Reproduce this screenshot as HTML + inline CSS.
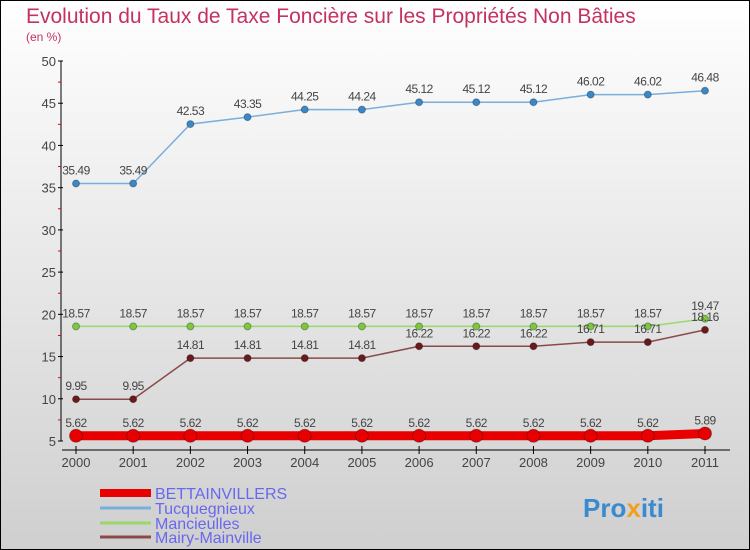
<!DOCTYPE html>
<html><head><meta charset="utf-8"><style>
html,body{margin:0;padding:0}
body{width:750px;height:550px;overflow:hidden;font-family:"Liberation Sans",sans-serif}
svg{display:block}
</style></head><body>
<svg id="c" width="750" height="550" xmlns="http://www.w3.org/2000/svg">
<defs><linearGradient id="bg" x1="0" y1="0" x2="0" y2="1"><stop offset="0" stop-color="#ffffff"/><stop offset="1" stop-color="#cfcfcf"/></linearGradient></defs>
<rect x="0.5" y="0.5" width="749" height="549" fill="url(#bg)" stroke="#000"/>
<text x="26" y="23" font-size="21" fill="#c4325e">Evolution du Taux de Taxe Foncière sur les Propriétés Non Bâties</text>
<text x="26" y="41" font-size="12" fill="#c4325e">(en %)</text>
<g id="axes"></g><g id="series"></g><g id="legend"></g>
<text x="583" y="517" font-size="26" font-weight="bold" fill="#3a8ad0">Pro<tspan fill="#f0a020">x</tspan>iti</text>
</svg>
<script>
const years=[2000,2001,2002,2003,2004,2005,2006,2007,2008,2009,2010,2011];
const bett=[5.62,5.62,5.62,5.62,5.62,5.62,5.62,5.62,5.62,5.62,5.62,5.89];
const tucq=[35.49,35.49,42.53,43.35,44.25,44.24,45.12,45.12,45.12,46.02,46.02,46.48];
const manc=[18.57,18.57,18.57,18.57,18.57,18.57,18.57,18.57,18.57,18.57,18.57,19.47];
const mairy=[9.95,9.95,14.81,14.81,14.81,14.81,16.22,16.22,16.22,16.71,16.71,18.16];
const yTicks=[5,10,15,20,25,30,35,40,45,50];
const NS="http://www.w3.org/2000/svg";
const X=i=>76+i*(705-76)/11;
const Y=v=>441-(v-5)*(380/45);
function mk(p,t,a){const e=document.createElementNS(NS,t);for(const k in a)e.setAttribute(k,a[k]);p.appendChild(e);return e;}
const ax=document.getElementById('axes');
let e=mk(ax,'line',{x1:61,y1:Y(50),x2:61,y2:Y(5),stroke:'#000'});


e=mk(ax,'line',{x1:62,y1:450,x2:730,y2:450,stroke:'#000'});


yTicks.forEach(v=>{
  mk(ax,'line',{x1:58,y1:Y(v),x2:63,y2:Y(v),stroke:'#000'});
  if(v<50)mk(ax,'line',{x1:58,y1:Y(v+2.5),x2:61,y2:Y(v+2.5),stroke:'#e00'});
  const t=mk(ax,'text',{x:56,y:Y(v)+5,'font-size':13,fill:'#444','text-anchor':'end'});t.textContent=v;
  
  
});
years.forEach((yr,i)=>{
  mk(ax,'line',{x1:X(i),y1:446,x2:X(i),y2:454,stroke:'#000'});
  const t=mk(ax,'text',{x:X(i),y:467,'font-size':13,fill:'#444','text-anchor':'middle'});t.textContent=yr;
  
  
});
const sg=document.getElementById('series');
function series(name,vals,col,dot,w,r){
  const g=mk(sg,'g',{});
  
  
  mk(g,'polyline',{points:vals.map((v,i)=>X(i)+','+Y(v)).join(' '),fill:'none',stroke:col,'stroke-width':w});
  vals.forEach((v,i)=>{
    const c=mk(g,'circle',{cx:X(i),cy:Y(v),r:r,fill:dot,stroke:'rgba(0,0,0,0.3)'});
    
    
    const t=mk(g,'text',{x:X(i),y:Y(v)-9,'font-size':12,fill:'#444','text-anchor':'middle','letter-spacing':'-0.5'});t.textContent=v;
    
    
  });
}
series('tucquegnieux',tucq,'#7aaedb','#3a88c8',1.5,3.5);
series('mancieulles',manc,'#9ad86a','#7cc840',1.5,3.5);
series('mairy-mainville',mairy,'#8a4a4a','#6a1a1a',1.5,3.5);
series('bettainvillers',bett,'#e80000','#e80000',9,6.5);
const lg=document.getElementById('legend');
const items=[['BETTAINVILLERS','#e80000',8],['Tucquegnieux','#7aaedb',3],['Mancieulles','#9ad86a',3],['Mairy-Mainville','#8a4a4a',3]];
items.forEach((it,i)=>{
  const y=[493,508,523,537][i];
  const g=mk(lg,'g',{});
  
  
  mk(g,'line',{x1:100,y1:y,x2:151,y2:y,stroke:it[1],'stroke-width':it[2]});
  const t=mk(g,'text',{x:155,y:y+6,'font-size':16,fill:'#6868ee'});t.textContent=it[0];
});
</script>
</body></html>
